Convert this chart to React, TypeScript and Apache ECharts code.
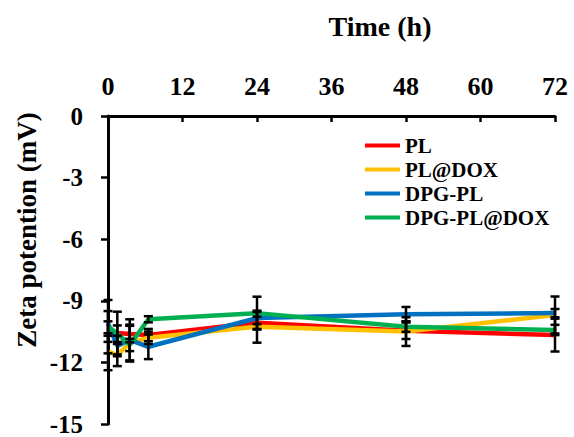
import React, { useEffect, useRef } from "react";
import * as echarts from "echarts";

const times = [0, 1.5, 3.5, 6.5, 24, 48, 72];
const seriesNames = ["PL", "PL@DOX", "DPG-PL", "DPG-PL@DOX"];
const colors = ["#FF0000", "#FFC000", "#0070C0", "#00B050"];
const plValues = [-10.5, -10.57, -10.62, -10.67, -10.07, -10.46, -10.67];
const plDoxValues = [-11.48, -11.64, -11.06, -10.8, -10.26, -10.5, -9.69];
const dpgPlValues = [-10.1, -11.2, -10.9, -11.24, -9.84, -9.65, -9.6];
const dpgPlDoxValues = [-10.26, -10.6, -11.15, -9.9, -9.6, -10.26, -10.42];
const plErr = [0.5, 1.04, 0.4, 0.3, 0.3, 0.4, 0.8];
const plDoxErr = [0.9, 0.54, 0.9, 0.3, 0.78, 0.7, 0.9];
const dpgPlErr = [0.6, 0.5, 1.0, 0.6, 0.3, 0.35, 0.2];
const dpgPlDoxErr = [1.3, 0.4, 0.3, 0.15, 0.8, 0.25, 0.25];
const xTicks = [0, 12, 24, 36, 48, 60, 72];
const yTicks = [0, -3, -6, -9, -12, -15];

const allValues = [plValues, plDoxValues, dpgPlValues, dpgPlDoxValues];
const allErrs = [plErr, plDoxErr, dpgPlErr, dpgPlDoxErr];

const FONT = "'Liberation Serif', 'Times New Roman', serif";

export default function App() {
  const ref = useRef<HTMLDivElement>(null);
  useEffect(() => {
    if (!ref.current) return;
    const chart = echarts.init(ref.current, null, { renderer: "svg" });
    const lineSeries = seriesNames.map((name, i) => ({
      name,
      type: "line",
      data: times.map((t, j) => [t, allValues[i][j]]),
      symbol: "none",
      lineStyle: { color: colors[i], width: 4.5 },
      itemStyle: { color: colors[i] },
      z: 2,
    }));
    const errSeries = seriesNames.map((name, i) => ({
      name: name + " err",
      type: "custom",
      data: times.map((t, j) => [t, allValues[i][j], allErrs[i][j]]),
      renderItem: (params: any, api: any) => {
        const x = api.value(0);
        const y = api.value(1);
        const e = api.value(2);
        const top = api.coord([x, y + e]);
        const bot = api.coord([x, y - e]);
        const hw = 4.5;
        const st = { stroke: "#000", lineWidth: 2.5 };
        return {
          type: "group",
          children: [
            { type: "line", shape: { x1: top[0], y1: top[1], x2: bot[0], y2: bot[1] }, style: st },
            { type: "line", shape: { x1: top[0] - hw, y1: top[1], x2: top[0] + hw, y2: top[1] }, style: st },
            { type: "line", shape: { x1: bot[0] - hw, y1: bot[1], x2: bot[0] + hw, y2: bot[1] }, style: st },
          ],
        };
      },
      z: 5,
      silent: true,
    }));
    chart.setOption({
      animation: false,
      grid: { left: 108, right: 19, top: 116, bottom: 13 },
      xAxis: {
        type: "value",
        position: "top",
        min: 0,
        max: 72,
        interval: 12,
        axisLine: { show: true, lineStyle: { color: "#000", width: 3 } },
        axisTick: { show: true, inside: true, length: 6, lineStyle: { color: "#000", width: 2.5 } },
        axisLabel: {
          margin: 17,
          color: "#000",
          fontFamily: FONT,
          fontWeight: "bold",
          fontSize: 26,
          formatter: (v: number) => (xTicks.includes(v) ? String(v) : ""),
        },
        splitLine: { show: false },
      },
      yAxis: {
        type: "value",
        min: -15,
        max: 0,
        interval: 3,
        axisLine: { show: true, onZero: false, lineStyle: { color: "#000", width: 3 } },
        axisTick: { show: true, inside: false, length: 7, lineStyle: { color: "#000", width: 2.5 } },
        axisLabel: {
          margin: 25,
          color: "#000",
          fontFamily: FONT,
          fontWeight: "bold",
          fontSize: 25,
          formatter: (v: number) => (yTicks.includes(v) ? String(v) : ""),
        },
        splitLine: { show: false },
      },
      legend: {
        data: seriesNames.map((n, i) => ({ name: n, itemStyle: { color: colors[i] } })),
        orient: "vertical",
        left: 365,
        top: 135,
        padding: 0,
        icon: "rect",
        itemWidth: 35,
        itemHeight: 4,
        itemGap: 3,
        itemStyle: { borderWidth: 0 },
        textStyle: {
          fontFamily: FONT,
          fontWeight: "bold",
          fontSize: 21,
          color: "#000",
          lineHeight: 20,
        },
      },
      graphic: [
        {
          type: "text",
          x: 380,
          y: 26,
          style: {
            text: "Time (h)",
            fontFamily: FONT,
            fontWeight: "bold",
            fontSize: 28,
            fill: "#000",
            textAlign: "center",
            textVerticalAlign: "middle",
          },
        },
        {
          type: "text",
          x: 27,
          y: 230,
          rotation: Math.PI / 2,
          style: {
            text: "Zeta potention (mV)",
            fontFamily: FONT,
            fontWeight: "bold",
            fontSize: 27,
            fill: "#000",
            textAlign: "center",
            textVerticalAlign: "middle",
          },
        },
      ],
      series: [...lineSeries, ...errSeries],
    });
    return () => chart.dispose();
  }, []);
  return (
    <div
      ref={ref}
      style={{ position: "absolute", left: 0, top: 0, width: 574, height: 437, background: "#fff" }}
    />
  );
}
